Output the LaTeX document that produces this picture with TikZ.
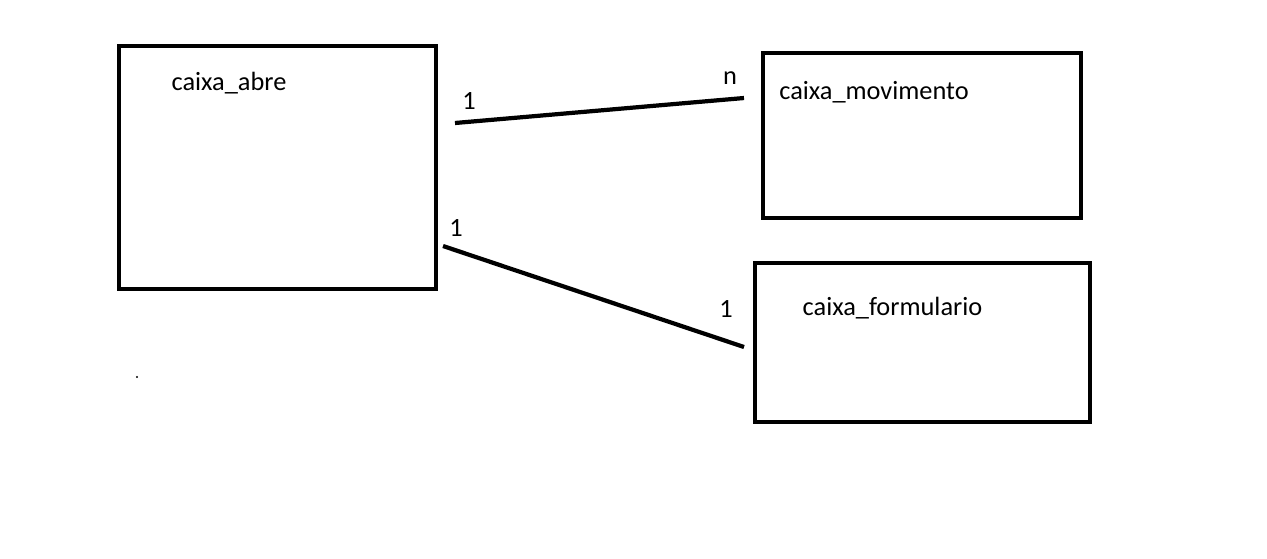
\documentclass[tikz,border=0pt]{standalone}
\usepackage{fontspec}
\setmainfont{Carlito}
\tikzset{
  entity/.style={draw, line width=2.2pt, rectangle, inner sep=0pt},
  tablename/.style={font=\fontsize{15}{18}\selectfont, inner sep=0pt},
  card/.style={font=\fontsize{15}{18}\selectfont, inner sep=0pt},
  relation/.style={line width=2.4pt},
}

\begin{document}
\begin{tikzpicture}
\useasboundingbox (0,0) rectangle (25.34,-11.16);
% tables
\node[entity, minimum width=6.34cm, minimum height=4.86cm] (abre) at (5.55,-3.35) {};
\node[entity, minimum width=6.36cm, minimum height=3.3cm] (movimento) at (18.44,-2.71) {};
\node[entity, minimum width=6.7cm, minimum height=3.18cm] (formulario) at (18.45,-6.85) {};
\node[tablename] (abrename) at (4.58,-1.66) {caixa\_abre};
\node[tablename] (movname) at (17.48,-1.84) {caixa\_movimento};
\node[tablename] (formname) at (17.85,-6.16) {caixa\_formulario};
% relations
\coordinate (r1a) at (9.1,-2.46);
\coordinate (r1b) at (14.88,-1.96);
\coordinate (r2a) at (8.86,-4.92);
\coordinate (r2b) at (14.88,-6.94);
\draw[relation] (r1a) -- (r1b);
\draw[relation] (r2a) -- (r2b);
\node[card] (c1a) at (9.38,-2.02) {1};
\node[card] (c1b) at (14.6,-1.56) {n};
\node[card] (c2a) at (9.12,-4.56) {1};
\node[card] (c2b) at (14.52,-6.18) {1};
\fill (2.74,-7.54) circle[radius=0.6pt];
\end{tikzpicture}
\end{document}
